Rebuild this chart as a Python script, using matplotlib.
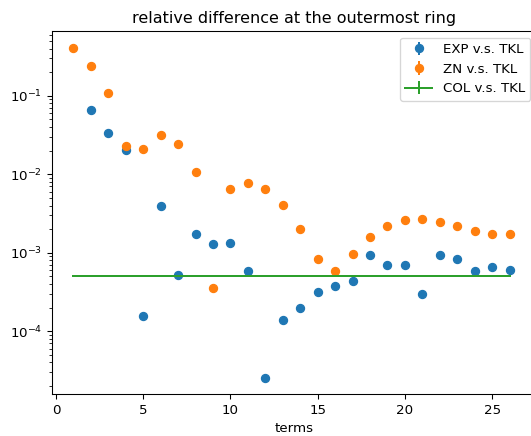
import matplotlib
matplotlib.use("Agg")
import matplotlib.pyplot as plt
import numpy as np

terms_exp = list(range(2, 27))
exp_vals = [0.0662, 0.0337, 0.0202, 1.54e-4, 3.9e-3, 5.19e-4, 1.71e-3, 1.28e-3, 1.33e-3,
            5.83e-4, 2.54e-5, 1.40e-4, 2.0e-4, 3.18e-4, 3.72e-4, 4.35e-4, 9.33e-4, 7.03e-4,
            7.03e-4, 2.94e-4, 9.42e-4, 8.37e-4, 5.78e-4, 6.56e-4, 6.07e-4]

terms_zn = list(range(1, 27))
zn_vals = [0.414, 0.241, 0.110, 0.0228, 0.0210, 0.0318, 0.0241, 0.0108, 3.54e-4, 6.44e-3,
           7.83e-3, 6.44e-3, 4.1e-3, 2.0e-3, 8.2e-4, 5.9e-4, 9.7e-4, 1.57e-3, 2.21e-3,
           2.61e-3, 2.67e-3, 2.49e-3, 2.19e-3, 1.91e-3, 1.75e-3, 1.71e-3]

terms_col = list(range(1, 27))
col_vals = [5.0e-4] * 26

DPI = 96
fig = plt.figure(figsize=(531 / DPI, 436 / DPI), dpi=DPI)
ax = fig.add_axes([51.6 / 531, (436 - 394.3) / 436, 485.4 / 531, (394.3 - 31) / 436])

ax.errorbar(terms_exp, exp_vals, yerr=np.zeros(len(exp_vals)), fmt='o', label='EXP v.s. TKL')
ax.errorbar(terms_zn, zn_vals, yerr=np.zeros(len(zn_vals)), fmt='o', label='ZN v.s. TKL')
ax.errorbar(terms_col, col_vals, yerr=np.zeros(len(col_vals)), fmt='-', label='COL v.s. TKL')

ax.set_yscale('log')
ax.set_xlim(-0.25, 27.57)
ax.set_xlabel('terms')
ax.set_title('relative difference at the outermost ring')
ax.legend(loc='upper right')

fig.savefig('out.png', dpi=DPI)
